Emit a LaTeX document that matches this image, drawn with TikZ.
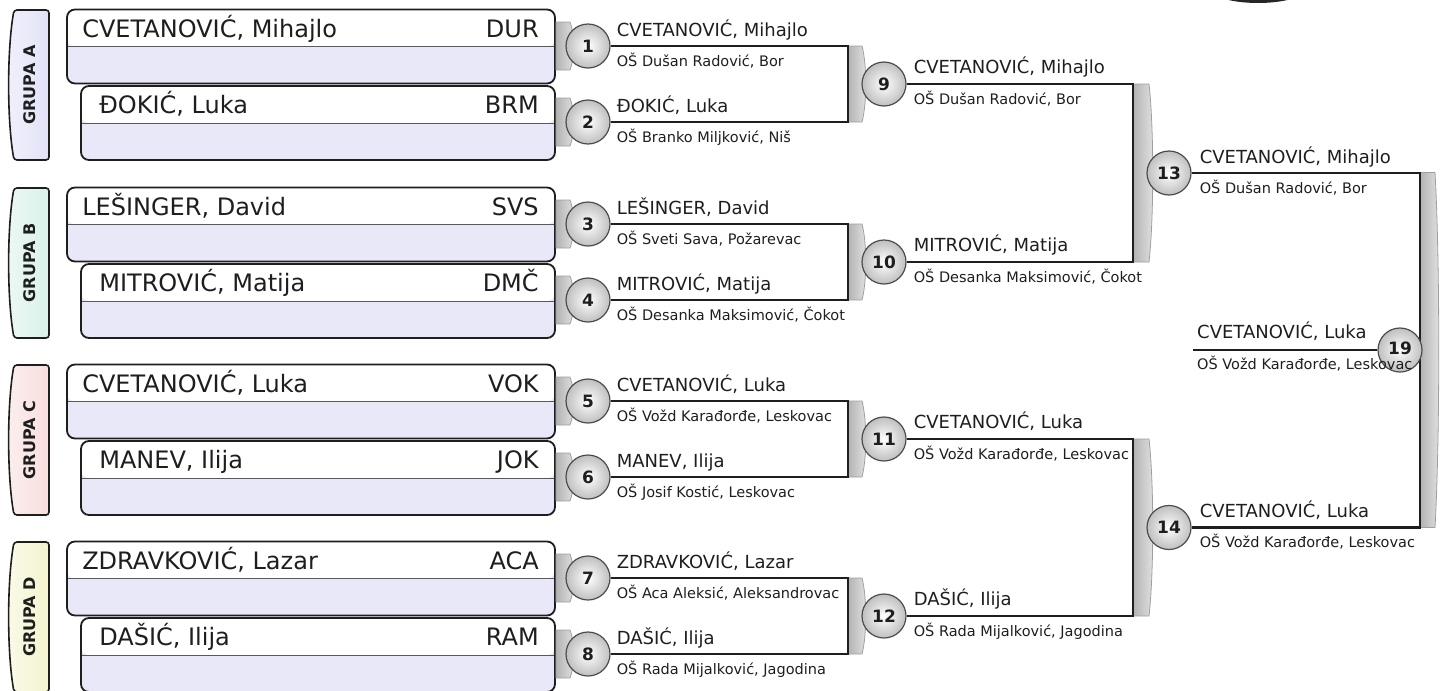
\documentclass[tikz,border=0pt]{standalone}
\usepackage{fontspec}
\setmainfont{DejaVu Sans}
\usetikzlibrary{calc,positioning}

\definecolor{boxlav}{HTML}{E9E8F8}
\definecolor{grpA}{HTML}{E2E2F8}
\definecolor{grpB}{HTML}{DAF1EA}
\definecolor{grpC}{HTML}{F9DEDE}
\definecolor{grpD}{HTML}{F4F4D0}
\definecolor{ink}{HTML}{1E1E1E}

\tikzset{
  pics/brk/.style args={#1/#2}{code={
    \shade[left color=gray!60,right color=gray!22,draw=gray!75,line width=0.8pt]
      (0,-#2) -- (#1,-#2) .. controls (#1+5,-#2/2) and (#1+5,#2/2) .. (#1,#2) -- (0,#2) -- cycle;
  }},
}

\begin{document}
\begin{tikzpicture}[x=1pt,y=-1pt,
pbox/.style={draw=ink,line width=1.8pt,rounded corners=8pt,fill=boxlav,minimum height=74pt,inner sep=0pt,
  path picture={\fill[white] (path picture bounding box.north west) rectangle (path picture bounding box.east);
    \draw[gray!70!black,line width=1pt] (path picture bounding box.west) -- (path picture bounding box.east);}},
tab/.style={draw=ink,line width=1.6pt,rounded corners=3pt},
grp/.style={rotate=90,text=ink,font=\fontsize{16}{16}\selectfont\bfseries},
pname/.style={inner sep=0pt,text=ink,font=\fontsize{24}{28}\selectfont},
wname/.style={inner sep=0pt,text=ink,font=\fontsize{18}{21}\selectfont},
school/.style={inner sep=0pt,text=ink,font=\fontsize{14.5}{17}\selectfont},
ball/.style={circle,draw=black!70,line width=1.2pt,inner color=white,outer color=gray!50,minimum size=44pt,inner sep=0pt,text=ink,font=\fontsize{17}{17}\selectfont\bfseries},
wire/.style={draw=ink,line width=2.2pt}
]
\useasboundingbox (0,0) rectangle (1441,691);

% trophy shadow, cut by the page edge
\fill[black!85] (1258,-14) ellipse [x radius=52, y radius=17];

% bracket corners
\coordinate (k9) at (848,84);
\coordinate (k10) at (848,262);
\coordinate (k11) at (848,439);
\coordinate (k12) at (848,616);
\coordinate (k13) at (1133,173);
\coordinate (k14) at (1133,527.5);
\coordinate (kf) at (1420,350);
\coordinate (w19) at (1193,350);

% group tabs
\shade[tab,left color=white!50!grpA,right color=grpA] (49,10) -- (14,10) .. controls (7,50) and (7,120) .. (14,160) -- (49,160) -- cycle;
\shade[tab,left color=white!50!grpB,right color=grpB] (49,188) -- (14,188) .. controls (7,228) and (7,298) .. (14,338) -- (49,338) -- cycle;
\shade[tab,left color=white!50!grpC,right color=grpC] (49,365) -- (14,365) .. controls (7,405) and (7,475) .. (14,515) -- (49,515) -- cycle;
\shade[tab,left color=white!50!grpD,right color=grpD] (49,542) -- (14,542) .. controls (7,582) and (7,652) .. (14,692) -- (49,692) -- cycle;
\node[grp] (gA) at (30,85) {GRUPA A};
\node[grp] (gB) at (30,263) {GRUPA B};
\node[grp] (gC) at (30,440) {GRUPA C};
\node[grp] (gD) at (30,617) {GRUPA D};

% player boxes
\node[pbox,minimum width=488pt] (p1) at (311,46.5) {};
\node[pbox,minimum width=474pt] (p2) at (318,123) {};
\node[pbox,minimum width=488pt] (p3) at (311,224.5) {};
\node[pbox,minimum width=474pt] (p4) at (318,301) {};
\node[pbox,minimum width=488pt] (p5) at (311,401.5) {};
\node[pbox,minimum width=474pt] (p6) at (318,478) {};
\node[pbox,minimum width=488pt] (p7) at (311,578.5) {};
\node[pbox,minimum width=474pt] (p8) at (318,655) {};

\node[pname,anchor=base west] (n1) at ($(p1.north west)+(16,29)$) {CVETANOVIĆ, Mihajlo};
\node[pname,anchor=base east] (c1) at ($(p1.north east)+(-17,29)$) {DUR};
\node[pname,anchor=base west] (n2) at ($(p2.north west)+(19,28)$) {ĐOKIĆ, Luka};
\node[pname,anchor=base east] (c2) at ($(p2.north east)+(-17,28)$) {BRM};
\node[pname,anchor=base west] (n3) at ($(p3.north west)+(16,29)$) {LEŠINGER, David};
\node[pname,anchor=base east] (c3) at ($(p3.north east)+(-17,29)$) {SVS};
\node[pname,anchor=base west] (n4) at ($(p4.north west)+(19,28)$) {MITROVIĆ, Matija};
\node[pname,anchor=base east] (c4) at ($(p4.north east)+(-17,28)$) {DMČ};
\node[pname,anchor=base west] (n5) at ($(p5.north west)+(16,29)$) {CVETANOVIĆ, Luka};
\node[pname,anchor=base east] (c5) at ($(p5.north east)+(-17,29)$) {VOK};
\node[pname,anchor=base west] (n6) at ($(p6.north west)+(19,28)$) {MANEV, Ilija};
\node[pname,anchor=base east] (c6) at ($(p6.north east)+(-17,28)$) {JOK};
\node[pname,anchor=base west] (n7) at ($(p7.north west)+(16,29)$) {ZDRAVKOVIĆ, Lazar};
\node[pname,anchor=base east] (c7) at ($(p7.north east)+(-17,29)$) {ACA};
\node[pname,anchor=base west] (n8) at ($(p8.north west)+(19,28)$) {DAŠIĆ, Ilija};
\node[pname,anchor=base east] (c8) at ($(p8.north east)+(-17,28)$) {RAM};

% tabs and brackets behind the balls
\pic at (p1.east |- 0,46) {brk=14/24};
\pic at (p2.east |- 0,122) {brk=14/24};
\pic at (p3.east |- 0,224) {brk=14/24};
\pic at (p4.east |- 0,300) {brk=14/24};
\pic at (p5.east |- 0,401) {brk=14/24};
\pic at (p6.east |- 0,477) {brk=14/24};
\pic at (p7.east |- 0,578) {brk=14/24};
\pic at (p8.east |- 0,654) {brk=14/24};
\pic at (k9) {brk=14/38};
\pic at (k10) {brk=14/38};
\pic at (k11) {brk=14/38};
\pic at (k12) {brk=14/38};
\pic at (k13) {brk=16/89};
\pic at (k14) {brk=16/88.5};
\pic at (kf) {brk=15/177.5};

% matches
\node[ball] (m1) at (588,46) {1};
\node[ball] (m2) at (588,122) {2};
\node[ball] (m3) at (588,224) {3};
\node[ball] (m4) at (588,300) {4};
\node[ball] (m5) at (588,401) {5};
\node[ball] (m6) at (588,477) {6};
\node[ball] (m7) at (588,578) {7};
\node[ball] (m8) at (588,654) {8};
\node[ball] (m9) at (884,84) {9};
\node[ball] (m10) at (884,262) {10};
\node[ball] (m11) at (884,439) {11};
\node[ball] (m12) at (884,616) {12};
\node[ball] (m13) at (1169,173) {13};
\node[ball] (m14) at (1169,527.5) {14};

\draw[wire] (m1.east) -| (k9) |- (m2.east);
\draw[wire] (m3.east) -| (k10) |- (m4.east);
\draw[wire] (m5.east) -| (k11) |- (m6.east);
\draw[wire] (m7.east) -| (k12) |- (m8.east);
\draw[wire] (m9.east) -| (k13) |- (m10.east);
\draw[wire] (m11.east) -| (k14) |- (m12.east);
\draw[wire] (m13.east) -| (kf) |- (m14.east);

\node[ball] (m19) at (1400,350) {\raisebox{3pt}{19}};
\draw[wire] (w19) -- (m19);

% winners
\node[wname,anchor=base west] (w1) at ($(m1.east)+(6,-10)$) {CVETANOVIĆ, Mihajlo};
\node[school,anchor=base west] (s1) at ($(m1.east)+(6,20)$) {OŠ Dušan Radović, Bor};
\node[wname,anchor=base west] (w2) at ($(m2.east)+(6,-10)$) {ĐOKIĆ, Luka};
\node[school,anchor=base west] (s2) at ($(m2.east)+(6,20)$) {OŠ Branko Miljković, Niš};
\node[wname,anchor=base west] (w3) at ($(m3.east)+(6,-10)$) {LEŠINGER, David};
\node[school,anchor=base west] (s3) at ($(m3.east)+(6,20)$) {OŠ Sveti Sava, Požarevac};
\node[wname,anchor=base west] (w4) at ($(m4.east)+(6,-10)$) {MITROVIĆ, Matija};
\node[school,anchor=base west] (s4) at ($(m4.east)+(6,20)$) {OŠ Desanka Maksimović, Čokot};
\node[wname,anchor=base west] (w5) at ($(m5.east)+(6,-10)$) {CVETANOVIĆ, Luka};
\node[school,anchor=base west] (s5) at ($(m5.east)+(6,20)$) {OŠ Vožd Karađorđe, Leskovac};
\node[wname,anchor=base west] (w6) at ($(m6.east)+(6,-10)$) {MANEV, Ilija};
\node[school,anchor=base west] (s6) at ($(m6.east)+(6,20)$) {OŠ Josif Kostić, Leskovac};
\node[wname,anchor=base west] (w7) at ($(m7.east)+(6,-10)$) {ZDRAVKOVIĆ, Lazar};
\node[school,anchor=base west] (s7) at ($(m7.east)+(6,20)$) {OŠ Aca Aleksić, Aleksandrovac};
\node[wname,anchor=base west] (w8) at ($(m8.east)+(6,-10)$) {DAŠIĆ, Ilija};
\node[school,anchor=base west] (s8) at ($(m8.east)+(6,20)$) {OŠ Rada Mijalković, Jagodina};

\node[wname,anchor=base west] (w9) at ($(m9.east)+(7,-11)$) {CVETANOVIĆ, Mihajlo};
\node[school,anchor=base west] (s9) at ($(m9.east)+(7,20)$) {OŠ Dušan Radović, Bor};
\node[wname,anchor=base west] (w10) at ($(m10.east)+(7,-11)$) {MITROVIĆ, Matija};
\node[school,anchor=base west] (s10) at ($(m10.east)+(7,20)$) {OŠ Desanka Maksimović, Čokot};
\node[wname,anchor=base west] (w11) at ($(m11.east)+(7,-11)$) {CVETANOVIĆ, Luka};
\node[school,anchor=base west] (s11) at ($(m11.east)+(7,20)$) {OŠ Vožd Karađorđe, Leskovac};
\node[wname,anchor=base west] (w12) at ($(m12.east)+(7,-11)$) {DAŠIĆ, Ilija};
\node[school,anchor=base west] (s12) at ($(m12.east)+(7,20)$) {OŠ Rada Mijalković, Jagodina};

\node[wname,anchor=base west] (w13) at ($(m13.east)+(8,-10)$) {CVETANOVIĆ, Mihajlo};
\node[school,anchor=base west] (s13) at ($(m13.east)+(8,20)$) {OŠ Dušan Radović, Bor};
\node[wname,anchor=base west] (w14) at ($(m14.east)+(8,-10)$) {CVETANOVIĆ, Luka};
\node[school,anchor=base west] (s14) at ($(m14.east)+(8,20)$) {OŠ Vožd Karađorđe, Leskovac};

\node[wname,anchor=base west] (w19n) at ($(w19)+(4,-12)$) {CVETANOVIĆ, Luka};
\node[school,anchor=base west] (s19) at ($(w19)+(4,19)$) {OŠ Vožd Karađorđe, Leskovac};
\end{tikzpicture}
\end{document}
